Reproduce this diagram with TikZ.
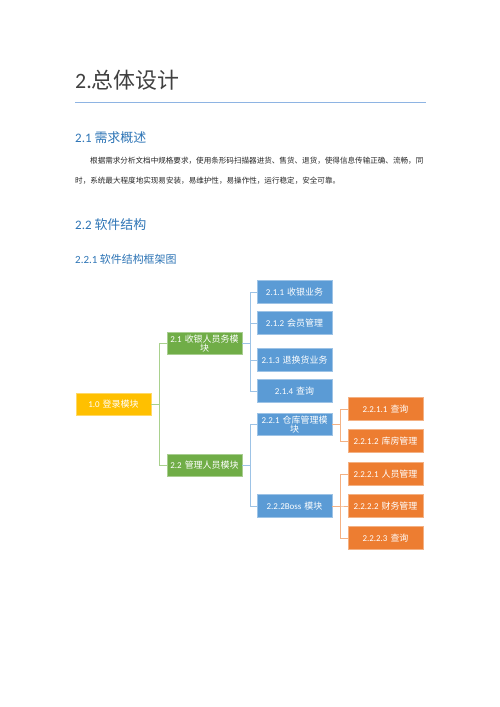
\documentclass[tikz,border=0pt]{standalone}
\usepackage{fontspec}
\setmainfont{Carlito}
\newfontfamily\cjk{Noto Sans CJK SC}
\newcommand{\zh}[1]{{\cjk #1}}
\definecolor{titlegray}{HTML}{404040}
\definecolor{headblue}{HTML}{2E75B6}
\definecolor{rulecol}{HTML}{8EB4E3}
\definecolor{goldc}{HTML}{FFC000}
\definecolor{greenc}{HTML}{70AD47}
\definecolor{bluec}{HTML}{5B9BD5}
\definecolor{orangec}{HTML}{ED7D31}
\definecolor{greenl}{HTML}{A9D18E}
\definecolor{bluel}{HTML}{9DC3E6}
\definecolor{orangel}{HTML}{F4B183}
\tikzset{
  box/.style={minimum width=75bp, minimum height=22.5bp, text width=71bp, inner sep=0pt, align=center,
    text=white, font=\fontsize{9}{10}\selectfont, line width=0.6bp},
  goldbox/.style={box, fill=goldc, draw=goldc!60!white},
  greenbox/.style={box, fill=greenc, draw=greenc!60!white},
  bluebox/.style={box, fill=bluec, draw=bluec!60!white},
  orangebox/.style={box, fill=orangec, draw=orangec!60!white},
  gline/.style={draw=greenl, line width=1bp},
  bline/.style={draw=bluel, line width=1bp},
  oline/.style={draw=orangel, line width=1bp},
  h2/.style={anchor=west, inner sep=0pt, text=headblue, font=\fontsize{13}{15}\selectfont},
  h3/.style={anchor=west, inner sep=0pt, text=headblue, font=\fontsize{11}{13}\selectfont},
  para/.style={anchor=west, inner sep=0pt, text=black!85, font=\fontsize{7.6}{9}\selectfont\cjk}
}
\begin{document}
\begin{tikzpicture}[x=1bp,y=-1bp]
\useasboundingbox[fill=white] (0,0) rectangle (500,707);
% header
\node[anchor=west, inner sep=0pt, text=titlegray, font=\fontsize{22}{26}\selectfont] (title) at (75,80) {2.\zh{总体设计}};
\coordinate (rl) at (75,103);
\coordinate (rr) at (426,103);
\draw[rulecol, line width=1bp] (rl) -- (rr);
\node[h2] (s21) at (75,138) {2.1 \zh{需求概述}};
\node[para] (p1) at (90,161) {根据需求分析文档中规格要求，使用条形码扫描器进货、售货、退货，使得信息传输正确、流畅，同};
\node[para] (p2) at (75,181) {时，系统最大程度地实现易安装，易维护性，易操作性，运行稳定，安全可靠。};
\node[h2] (s22) at (75,225) {2.2 \zh{软件结构}};
\node[h3] (s221) at (75,259) {2.2.1 \zh{软件结构框架图}};
% tree
\node[goldbox] (n10) at (113.5,404.5) {1.0 \zh{登录模块}};
\node[greenbox] (n21) at (204.5,343.5) {2.1 \zh{收银人员务模}\\[-1pt]\zh{块}};
\node[greenbox] (n22) at (204.5,465.5) {2.2 \zh{管理人员模块}};
\node[bluebox] (n211) at (294.5,292) {2.1.1 \zh{收银业务}};
\node[bluebox] (n212) at (294.5,323) {2.1.2 \zh{会员管理}};
\node[bluebox] (n213) at (294.5,360) {2.1.3 \zh{退换货业务}};
\node[bluebox] (n214) at (294.5,391) {2.1.4 \zh{查询}};
\node[bluebox] (n221) at (294.5,424.5) {2.2.1 \zh{仓库管理模}\\[-1pt]\zh{块}};
\node[bluebox] (n222) at (294.5,506) {2.2.2Boss \zh{模块}};
\node[orangebox] (n2211) at (385.5,409) {2.2.1.1 \zh{查询}};
\node[orangebox] (n2212) at (385.5,441) {2.2.1.2 \zh{库房管理}};
\node[orangebox] (n2221) at (385.5,474) {2.2.2.1 \zh{人员管理}};
\node[orangebox] (n2222) at (385.5,506) {2.2.2.2 \zh{财务管理}};
\node[orangebox] (n2223) at (385.5,538) {2.2.2.3 \zh{查询}};
% connectors
\foreach \c in {n21,n22} \draw[gline] (n10.east) -- ++(8,0) |- (\c.west);
\foreach \c in {n211,n212,n213,n214} \draw[bline] (n21.east) -- ++(8.5,0) |- (\c.west);
\foreach \c in {n221,n222} \draw[bline] (n22.east) -- ++(8.5,0) |- (\c.west);
\foreach \c in {n2211,n2212} \draw[oline] (n221.east) -- ++(8,0) |- (\c.west);
\foreach \c in {n2221,n2222,n2223} \draw[oline] (n222.east) -- ++(8,0) |- (\c.west);
\end{tikzpicture}
\end{document}
